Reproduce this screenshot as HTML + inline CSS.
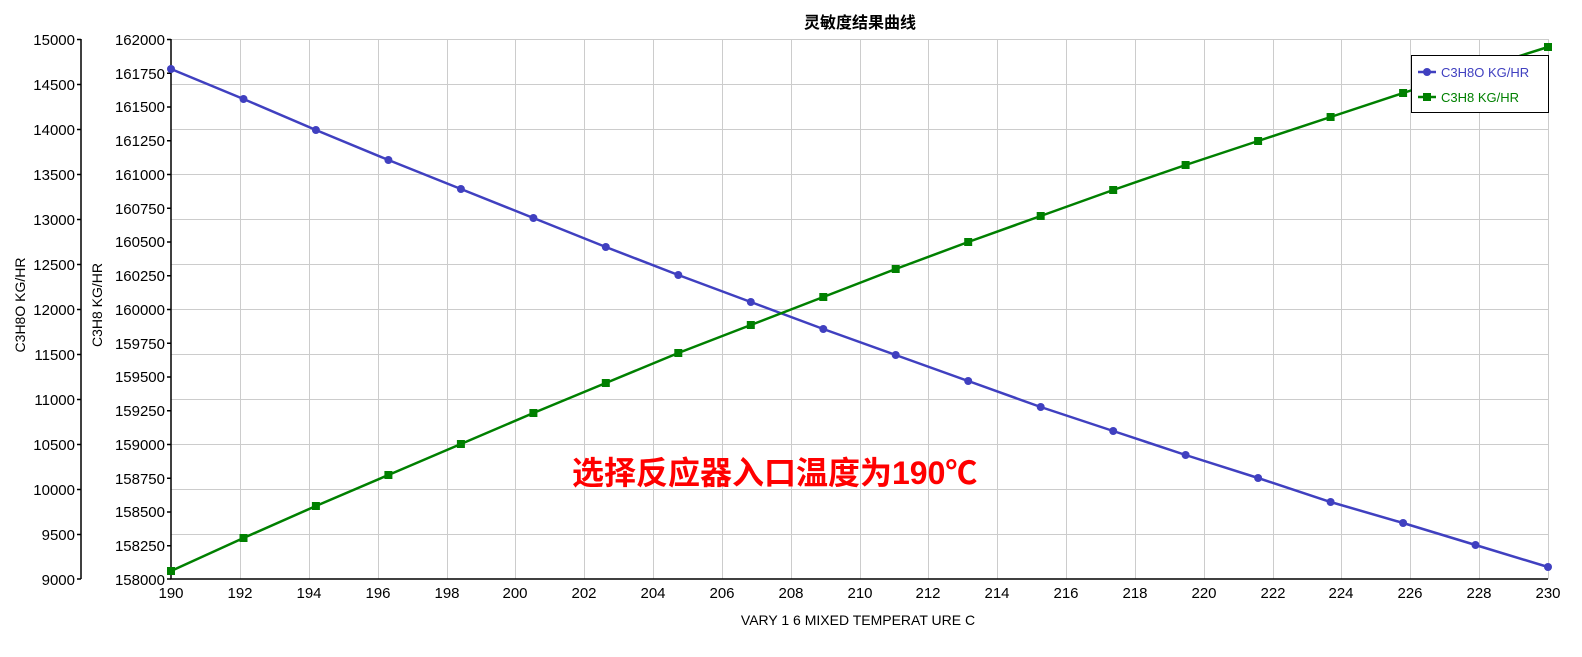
<!DOCTYPE html>
<html><head><meta charset="utf-8"><style>
body{margin:0;background:#fff}
svg text{font-family:"Liberation Sans","Noto Sans CJK SC",sans-serif}
</style></head><body>
<svg width="1582" height="652" xmlns="http://www.w3.org/2000/svg">
<rect width="1582" height="652" fill="#fff"/>
<g stroke="#cccccc" stroke-width="1" fill="none">
<path d="M240.5 39V579M309.5 39V579M378.5 39V579M447.5 39V579M515.5 39V579M584.5 39V579M653.5 39V579M722.5 39V579M791.5 39V579M860.5 39V579M928.5 39V579M997.5 39V579M1066.5 39V579M1135.5 39V579M1204.5 39V579M1273.5 39V579M1341.5 39V579M1410.5 39V579M1479.5 39V579M1548.5 39V579"/>
<path d="M171 39.5H1548M171 84.5H1548M171 129.5H1548M171 174.5H1548M171 219.5H1548M171 264.5H1548M171 309.5H1548M171 354.5H1548M171 399.5H1548M171 444.5H1548M171 489.5H1548M171 534.5H1548"/>
</g>
<g stroke="#000" stroke-width="1.5" fill="none">
<path d="M81 39V579"/><path d="M171 39V579H1548"/>
<path d="M77 39.5H81M77 84.5H81M77 129.5H81M77 174.5H81M77 219.5H81M77 264.5H81M77 309.5H81M77 354.5H81M77 399.5H81M77 444.5H81M77 489.5H81M77 534.5H81M77 579H81"/>
<path d="M167 39.5H171M167 73.3H171M167 107H171M167 140.8H171M167 174.5H171M167 208.3H171M167 242H171M167 275.8H171M167 309.5H171M167 343.3H171M167 377H171M167 410.8H171M167 444.5H171M167 478.3H171M167 512H171M167 545.8H171M167 579H171"/>
</g>
<g font-size="15" fill="#000" text-anchor="end">
<text x="75" y="45">15000</text><text x="75" y="90">14500</text><text x="75" y="135">14000</text><text x="75" y="180">13500</text><text x="75" y="225">13000</text><text x="75" y="270">12500</text><text x="75" y="315">12000</text><text x="75" y="360">11500</text><text x="75" y="405">11000</text><text x="75" y="450">10500</text><text x="75" y="495">10000</text><text x="75" y="540">9500</text><text x="75" y="585">9000</text>
<text x="165" y="45">162000</text><text x="165" y="79">161750</text><text x="165" y="112">161500</text><text x="165" y="146">161250</text><text x="165" y="180">161000</text><text x="165" y="214">160750</text><text x="165" y="247">160500</text><text x="165" y="281">160250</text><text x="165" y="315">160000</text><text x="165" y="349">159750</text><text x="165" y="382">159500</text><text x="165" y="416">159250</text><text x="165" y="450">159000</text><text x="165" y="484">158750</text><text x="165" y="517">158500</text><text x="165" y="551">158250</text><text x="165" y="585">158000</text>
</g>
<g font-size="15" fill="#000" text-anchor="middle">
<text x="171" y="598">190</text><text x="240" y="598">192</text><text x="309" y="598">194</text><text x="378" y="598">196</text><text x="447" y="598">198</text><text x="515" y="598">200</text><text x="584" y="598">202</text><text x="653" y="598">204</text><text x="722" y="598">206</text><text x="791" y="598">208</text><text x="860" y="598">210</text><text x="928" y="598">212</text><text x="997" y="598">214</text><text x="1066" y="598">216</text><text x="1135" y="598">218</text><text x="1204" y="598">220</text><text x="1273" y="598">222</text><text x="1341" y="598">224</text><text x="1410" y="598">226</text><text x="1479" y="598">228</text><text x="1548" y="598">230</text>
<text x="858" y="625" font-size="14">VARY   1 6 MIXED TEMPERAT URE C</text>
<text x="860" y="28" font-size="16" font-weight="bold">灵敏度结果曲线</text>
<text transform="translate(25,305) rotate(-90)" font-size="14">C3H8O KG/HR</text>
<text transform="translate(102,305) rotate(-90)" font-size="14">C3H8 KG/HR</text>
</g>
<polyline fill="none" stroke="#4040c0" stroke-width="2.5" points="171,69 243.5,99 315.9,130 388.4,160 460.9,189 533.4,218 605.8,247 678.3,275 750.8,302 823.3,329 895.7,355 968.2,381 1040.7,407 1113.2,431 1185.6,455 1258.1,478 1330.6,502 1403.1,523 1475.5,545 1548,567"/>
<polyline fill="none" stroke="#008000" stroke-width="2.5" points="171,571 243.5,538 315.9,506 388.4,475 460.9,444 533.4,413 605.8,383 678.3,353 750.8,325 823.3,297 895.7,269 968.2,242 1040.7,216 1113.2,190 1185.6,165 1258.1,141 1330.6,117 1403.1,93 1475.5,70 1548,47"/>
<g fill="#4040c0">
<circle cx="171" cy="69" r="4"/><circle cx="243.5" cy="99" r="4"/><circle cx="315.9" cy="130" r="4"/><circle cx="388.4" cy="160" r="4"/><circle cx="460.9" cy="189" r="4"/><circle cx="533.4" cy="218" r="4"/><circle cx="605.8" cy="247" r="4"/><circle cx="678.3" cy="275" r="4"/><circle cx="750.8" cy="302" r="4"/><circle cx="823.3" cy="329" r="4"/><circle cx="895.7" cy="355" r="4"/><circle cx="968.2" cy="381" r="4"/><circle cx="1040.7" cy="407" r="4"/><circle cx="1113.2" cy="431" r="4"/><circle cx="1185.6" cy="455" r="4"/><circle cx="1258.1" cy="478" r="4"/><circle cx="1330.6" cy="502" r="4"/><circle cx="1403.1" cy="523" r="4"/><circle cx="1475.5" cy="545" r="4"/><circle cx="1548" cy="567" r="4"/>
</g>
<g fill="#008000">
<rect x="167" y="567" width="8" height="8"/><rect x="239.5" y="534" width="8" height="8"/><rect x="311.9" y="502" width="8" height="8"/><rect x="384.4" y="471" width="8" height="8"/><rect x="456.9" y="440" width="8" height="8"/><rect x="529.4" y="409" width="8" height="8"/><rect x="601.8" y="379" width="8" height="8"/><rect x="674.3" y="349" width="8" height="8"/><rect x="746.8" y="321" width="8" height="8"/><rect x="819.3" y="293" width="8" height="8"/><rect x="891.7" y="265" width="8" height="8"/><rect x="964.2" y="238" width="8" height="8"/><rect x="1036.7" y="212" width="8" height="8"/><rect x="1109.2" y="186" width="8" height="8"/><rect x="1181.6" y="161" width="8" height="8"/><rect x="1254.1" y="137" width="8" height="8"/><rect x="1326.6" y="113" width="8" height="8"/><rect x="1399.1" y="89" width="8" height="8"/><rect x="1471.5" y="66" width="8" height="8"/><rect x="1544" y="43" width="8" height="8"/>
</g>
<rect x="1411.5" y="55.5" width="137" height="57" fill="#fff" stroke="#000"/>
<path d="M1418 72H1436" stroke="#4040c0" stroke-width="2.5"/><circle cx="1427" cy="72" r="4" fill="#4040c0"/>
<text x="1441" y="77" font-size="13" fill="#4040c0">C3H8O KG/HR</text>
<path d="M1418 97H1436" stroke="#008000" stroke-width="2.5"/><rect x="1423" y="93" width="8" height="8" fill="#008000"/>
<text x="1441" y="102" font-size="13" fill="#008000">C3H8 KG/HR</text>
<text x="572" y="484" font-size="32" font-weight="bold" fill="#ff0000">选择反应器入口温度为190℃</text>
</svg>
</body></html>
